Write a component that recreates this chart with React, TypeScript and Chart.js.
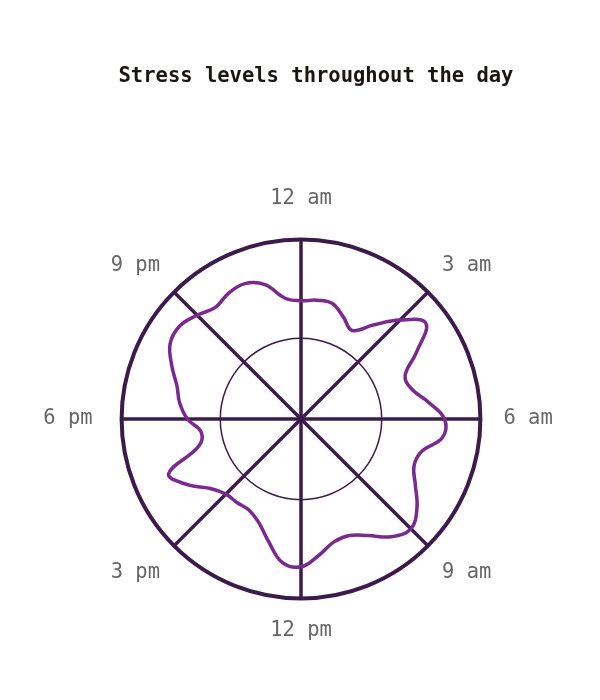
import React, { useEffect, useRef } from "react";
import { Chart, registerables } from "chart.js";

Chart.register(...registerables);

// Half-hourly time slots (48), only the 3-hourly ones are labelled on the chart
const TIME_LABELS = [
  "12 am", "12:30 am", "1 am", "1:30 am", "2 am", "2:30 am",
  "3 am", "3:30 am", "4 am", "4:30 am", "5 am", "5:30 am",
  "6 am", "6:30 am", "7 am", "7:30 am", "8 am", "8:30 am",
  "9 am", "9:30 am", "10 am", "10:30 am", "11 am", "11:30 am",
  "12 pm", "12:30 pm", "1 pm", "1:30 pm", "2 pm", "2:30 pm",
  "3 pm", "3:30 pm", "4 pm", "4:30 pm", "5 pm", "5:30 pm",
  "6 pm", "6:30 pm", "7 pm", "7:30 pm", "8 pm", "8:30 pm",
  "9 pm", "9:30 pm", "10 pm", "10:30 pm", "11 pm", "11:30 pm",
];

// Stress level (0-10) read for each half hour
const STRESS_LEVELS = [
  6.59, 6.68, 6.68, 6.16, 5.7, 6.6,
  7.8, 8.77, 7.43, 6.28, 6.4, 7.17,
  8.0, 7.95, 6.97, 6.82, 7.36, 8.15,
  8.66, 8.27, 7.5, 7.03, 7.09, 7.66,
  8.24, 8.06, 7.04, 6.21, 5.84, 5.87,
  5.92, 6.36, 7.32, 7.99, 5.91, 5.61,
  6.33, 6.82, 7.16, 7.8, 8.42, 8.52,
  8.18, 7.84, 8.09, 8.17, 7.75, 6.79,
];

const SCALE_MIN = 0;
const SCALE_MAX = 10;
const GRID_VALUES = [0, 4.5, 10];
const LABEL_EVERY = 6;

const TITLE = "Stress levels throughout the day";
const GRID_COLOR = "#3d1a4c";
const LINE_COLOR = "#7a2a8e";
const LABEL_COLOR = "#666666";
const MONO = "'DejaVu Sans Mono', 'Liberation Mono', monospace";

function labelPadding(index: number): number {
  if (index === 0) return 29; // 12 am
  if (index === 12) return 23; // 6 am
  if (index === 36) return 29; // 6 pm
  return 20;
}

export default function App() {
  const canvasRef = useRef<HTMLCanvasElement | null>(null);

  useEffect(() => {
    if (!canvasRef.current) return;
    const chart = new Chart(canvasRef.current, {
      type: "radar",
      data: {
        labels: TIME_LABELS,
        datasets: [
          {
            label: "Stress level",
            data: STRESS_LEVELS,
            borderColor: LINE_COLOR,
            borderWidth: 3.5,
            fill: false,
            pointRadius: 0,
            pointHoverRadius: 0,
            tension: 0.4,
          },
        ],
      },
      options: {
        responsive: true,
        maintainAspectRatio: false,
        animation: false,
        layout: { padding: { top: 174, bottom: 44, left: 2, right: 6 } },
        plugins: {
          legend: { display: false },
          tooltip: { enabled: false },
          title: { display: false },
        },
        scales: {
          r: {
            min: SCALE_MIN,
            max: SCALE_MAX,
            afterBuildTicks: (scale: any) => {
              scale.ticks = GRID_VALUES.map((value) => ({ value }));
            },
            ticks: { display: false },
            grid: {
              circular: true,
              color: GRID_COLOR,
              lineWidth: (ctx: any) =>
                ctx.tick && ctx.tick.value === SCALE_MAX ? 4 : 1.5,
            },
            angleLines: {
              color: GRID_COLOR,
              lineWidth: (ctx: any) => (ctx.index % LABEL_EVERY === 0 ? 3.5 : 0),
            },
            pointLabels: {
              display: true,
              color: LABEL_COLOR,
              font: { family: MONO, size: 20.5 },
              padding: (ctx: any) => labelPadding(ctx.index),
              callback: (label: string, index: number) =>
                index % LABEL_EVERY === 0 ? label : "",
            },
          },
        },
      },
    });
    return () => chart.destroy();
  }, []);

  return (
    <div style={{ position: "relative", width: "100%", height: 684 }}>
      <div
        style={{
          position: "absolute",
          top: 55,
          left: 0,
          right: 0,
          paddingLeft: 32,
          textAlign: "center",
          fontFamily: MONO,
          fontWeight: "bold",
          fontSize: 20.5,
          lineHeight: "24px",
          color: "#1a1613",
          pointerEvents: "none",
        }}
      >
        {TITLE}
      </div>
      <canvas ref={canvasRef} />
    </div>
  );
}
